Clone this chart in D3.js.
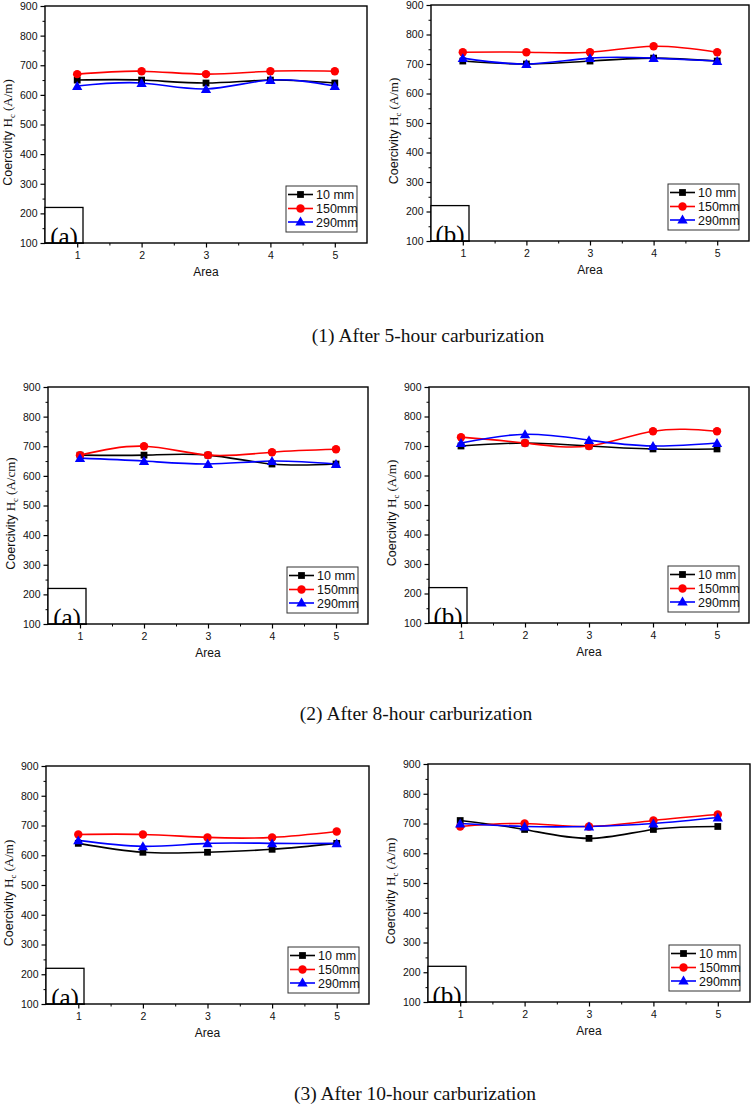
<!DOCTYPE html>
<html><head><meta charset="utf-8">
<script src="https://cdn.jsdelivr.net/npm/d3@7/dist/d3.min.js"></script>
<style>body{margin:0;background:#fff}svg{display:block}</style>
</head><body>
<svg id="c" width="754" height="1107"></svg>
<script>
// ---------- data ----------
const areas = [1, 2, 3, 4, 5];
const seriesNames = ["10 mm", "150mm", "290mm"];
const seriesColors = ["#000000", "#ff0000", "#0000ff"];
const yTickValues = [100, 200, 300, 400, 500, 600, 700, 800, 900];
const xTickValues = [1, 2, 3, 4, 5];

// After 5-hour carburization
const h5a_10mm  = [650, 650, 640, 650, 640];
const h5a_150mm = [670, 680, 670, 680, 680];
const h5a_290mm = [630, 640, 620, 650, 630];
const h5b_10mm  = [710, 700, 710, 720, 710];
const h5b_150mm = [740, 740, 740, 760, 740];
const h5b_290mm = [720, 700, 720, 720, 710];
// After 8-hour carburization
const h8a_10mm  = [670, 670, 670, 640, 640];
const h8a_150mm = [670, 700, 670, 680, 690];
const h8a_290mm = [660, 650, 640, 650, 640];
const h8b_10mm  = [700, 710, 700, 690, 690];
const h8b_150mm = [730, 710, 700, 750, 750];
const h8b_290mm = [710, 740, 720, 700, 710];
// After 10-hour carburization
const h10a_10mm  = [640, 610, 610, 620, 640];
const h10a_150mm = [670, 670, 660, 660, 680];
const h10a_290mm = [650, 630, 640, 640, 640];
const h10b_10mm  = [710, 680, 650, 680, 690];
const h10b_150mm = [690, 700, 690, 710, 730];
const h10b_290mm = [700, 690, 690, 700, 720];

const captions = ["(1) After 5-hour carburization", "(2) After 8-hour carburization", "(3) After 10-hour carburization"];
const panelLetters = ["(a)", "(b)", "(a)", "(b)", "(a)", "(b)"];
const yUnits = ["A/m", "A/m", "A/cm", "A/m", "A/m", "A/m"];
const xTitle = "Area";

// ---------- layout ----------
const panelData = [
  [h5a_10mm, h5a_150mm, h5a_290mm],
  [h5b_10mm, h5b_150mm, h5b_290mm],
  [h8a_10mm, h8a_150mm, h8a_290mm],
  [h8b_10mm, h8b_150mm, h8b_290mm],
  [h10a_10mm, h10a_150mm, h10a_290mm],
  [h10b_10mm, h10b_150mm, h10b_290mm]
];
const boxes = [
  {L: 45, R: 367, T: 6,   B: 243},
  {L: 431, R: 749, T: 5,  B: 241},
  {L: 48, R: 368, T: 387, B: 624},
  {L: 429, R: 749, T: 387, B: 623},
  {L: 46, R: 369, T: 766, B: 1004},
  {L: 428, R: 750, T: 764, B: 1002}
];
const captionPos = [{x: 428, y: 342}, {x: 416, y: 720}, {x: 415, y: 1100}];

const svg = d3.select("#c");
const sans = "Arial, 'Liberation Sans', Helvetica, sans-serif";
const serif = "'Times New Roman', 'Liberation Serif', serif";
const symbols = [d3.symbolSquare, d3.symbolCircle, d3.symbolTriangle];
const symSizes = [46, 56, 46];

boxes.forEach((b, pi) => {
  const g = svg.append("g");
  const x = d3.scaleLinear().domain([0.5, 5.5]).range([b.L, b.R]);
  const y = d3.scaleLinear().domain([100, 900]).range([b.B, b.T]);

  // minor ticks
  const yMinor = d3.range(150, 900, 100);
  g.append("g").attr("transform", `translate(${b.L},0)`)
    .call(d3.axisLeft(y).tickValues(yMinor).tickSize(2.5).tickFormat(""))
    .call(a => a.select(".domain").remove())
    .selectAll("line").attr("stroke", "#000").attr("stroke-width", 1);
  const xMinor = d3.range(1.5, 5.5, 1);
  g.append("g").attr("transform", `translate(0,${b.B})`)
    .call(d3.axisBottom(x).tickValues(xMinor).tickSize(2.5).tickFormat(""))
    .call(a => a.select(".domain").remove())
    .selectAll("line").attr("stroke", "#000").attr("stroke-width", 1);

  // major ticks
  const ya = g.append("g").attr("transform", `translate(${b.L},0)`)
    .call(d3.axisLeft(y).tickValues(yTickValues).tickSize(4.5).tickPadding(3));
  ya.select(".domain").remove();
  ya.selectAll("line").attr("stroke", "#000").attr("stroke-width", 1.2);
  ya.selectAll("text").attr("font-family", sans).attr("font-size", 10.5).attr("fill", "#111");

  const xa = g.append("g").attr("transform", `translate(0,${b.B})`)
    .call(d3.axisBottom(x).tickValues(xTickValues).tickSize(4.5).tickPadding(4).tickFormat(d3.format("d")));
  xa.select(".domain").remove();
  xa.selectAll("line").attr("stroke", "#000").attr("stroke-width", 1.2);
  xa.selectAll("text").attr("font-family", sans).attr("font-size", 10.5).attr("fill", "#111");

  // frame
  g.append("rect").attr("x", b.L).attr("y", b.T).attr("width", b.R - b.L).attr("height", b.B - b.T)
    .attr("fill", "none").attr("stroke", "#000").attr("stroke-width", 1.4);

  // axis titles
  g.append("text").attr("x", (b.L + b.R) / 2).attr("y", b.B + 33)
    .attr("text-anchor", "middle").attr("font-family", sans).attr("font-size", 12).attr("fill", "#111")
    .text(xTitle);
  const yl = g.append("text")
    .attr("transform", `translate(${b.L - 33},${(b.T + b.B) / 2 + 8}) rotate(-90)`)
    .attr("text-anchor", "middle").attr("font-family", sans).attr("font-size", 12.5).attr("fill", "#111");
  yl.append("tspan").text("Coercivity ");
  yl.append("tspan").attr("font-family", serif).attr("font-size", 13).text("H");
  yl.append("tspan").attr("font-family", serif).attr("font-size", 8.5).attr("dy", 3).text("c");
  yl.append("tspan").attr("font-family", serif).attr("font-size", 13).attr("dy", -3).text(" (" + yUnits[pi] + ")");

  // letter box
  const bx0 = b.L, bw = 38, byTop = y(220);
  const clipId = "clip" + pi;
  svg.append("clipPath").attr("id", clipId).append("rect")
    .attr("x", bx0).attr("y", byTop).attr("width", bw).attr("height", b.B - byTop);
  g.append("rect").attr("x", bx0).attr("y", byTop).attr("width", bw).attr("height", b.B - byTop)
    .attr("fill", "#fff").attr("stroke", "#000").attr("stroke-width", 1.3);
  g.append("text").attr("clip-path", `url(#${clipId})`)
    .attr("x", bx0 + bw / 2).attr("y", b.B + 1.5).attr("text-anchor", "middle")
    .attr("font-family", serif).attr("font-size", 25).attr("fill", "#000")
    .text(panelLetters[pi]);
  g.append("line").attr("x1", b.L).attr("x2", b.L + bw + 1).attr("y1", b.B).attr("y2", b.B)
    .attr("stroke", "#000").attr("stroke-width", 1.4);

  // series
  const line = d3.line().x((d, i) => x(areas[i])).y(d => y(d)).curve(d3.curveNatural);
  panelData[pi].forEach((vals, si) => {
    g.append("path").attr("d", line(vals)).attr("fill", "none")
      .attr("stroke", seriesColors[si]).attr("stroke-width", 1.6);
  });
  panelData[pi].forEach((vals, si) => {
    g.selectAll(null).data(vals).enter().append("path")
      .attr("transform", (d, i) => `translate(${x(areas[i])},${y(d) + (si === 2 ? 1 : 0)})`)
      .attr("d", d3.symbol().type(symbols[si]).size(symSizes[si]))
      .attr("fill", seriesColors[si]);
  });

  // legend
  const lw = 71, lh = 46;
  const lx = b.R - 10 - lw, ly = b.B - 11 - lh;
  g.append("rect").attr("x", lx).attr("y", ly).attr("width", lw).attr("height", lh)
    .attr("fill", "#fff").attr("stroke", "#333").attr("stroke-width", 1);
  const rowY = [8.5, 22.5, 36];
  seriesNames.forEach((name, si) => {
    const ry = ly + rowY[si];
    g.append("line").attr("x1", lx + 2).attr("x2", lx + 27).attr("y1", ry).attr("y2", ry)
      .attr("stroke", seriesColors[si]).attr("stroke-width", 1.6);
    g.append("path").attr("transform", `translate(${lx + 14.5},${ry + (si === 2 ? 0.5 : 0)})`)
      .attr("d", d3.symbol().type(symbols[si]).size(symSizes[si])).attr("fill", seriesColors[si]);
    g.append("text").attr("x", lx + 30).attr("y", ry + 4.5)
      .attr("font-family", sans).attr("font-size", 12.5).attr("fill", "#111").text(name);
  });
});

captions.forEach((c, i) => {
  svg.append("text").attr("x", captionPos[i].x).attr("y", captionPos[i].y)
    .attr("text-anchor", "middle").attr("font-family", serif).attr("font-size", 19.5).attr("fill", "#111")
    .text(c);
});
</script>
</body></html>
